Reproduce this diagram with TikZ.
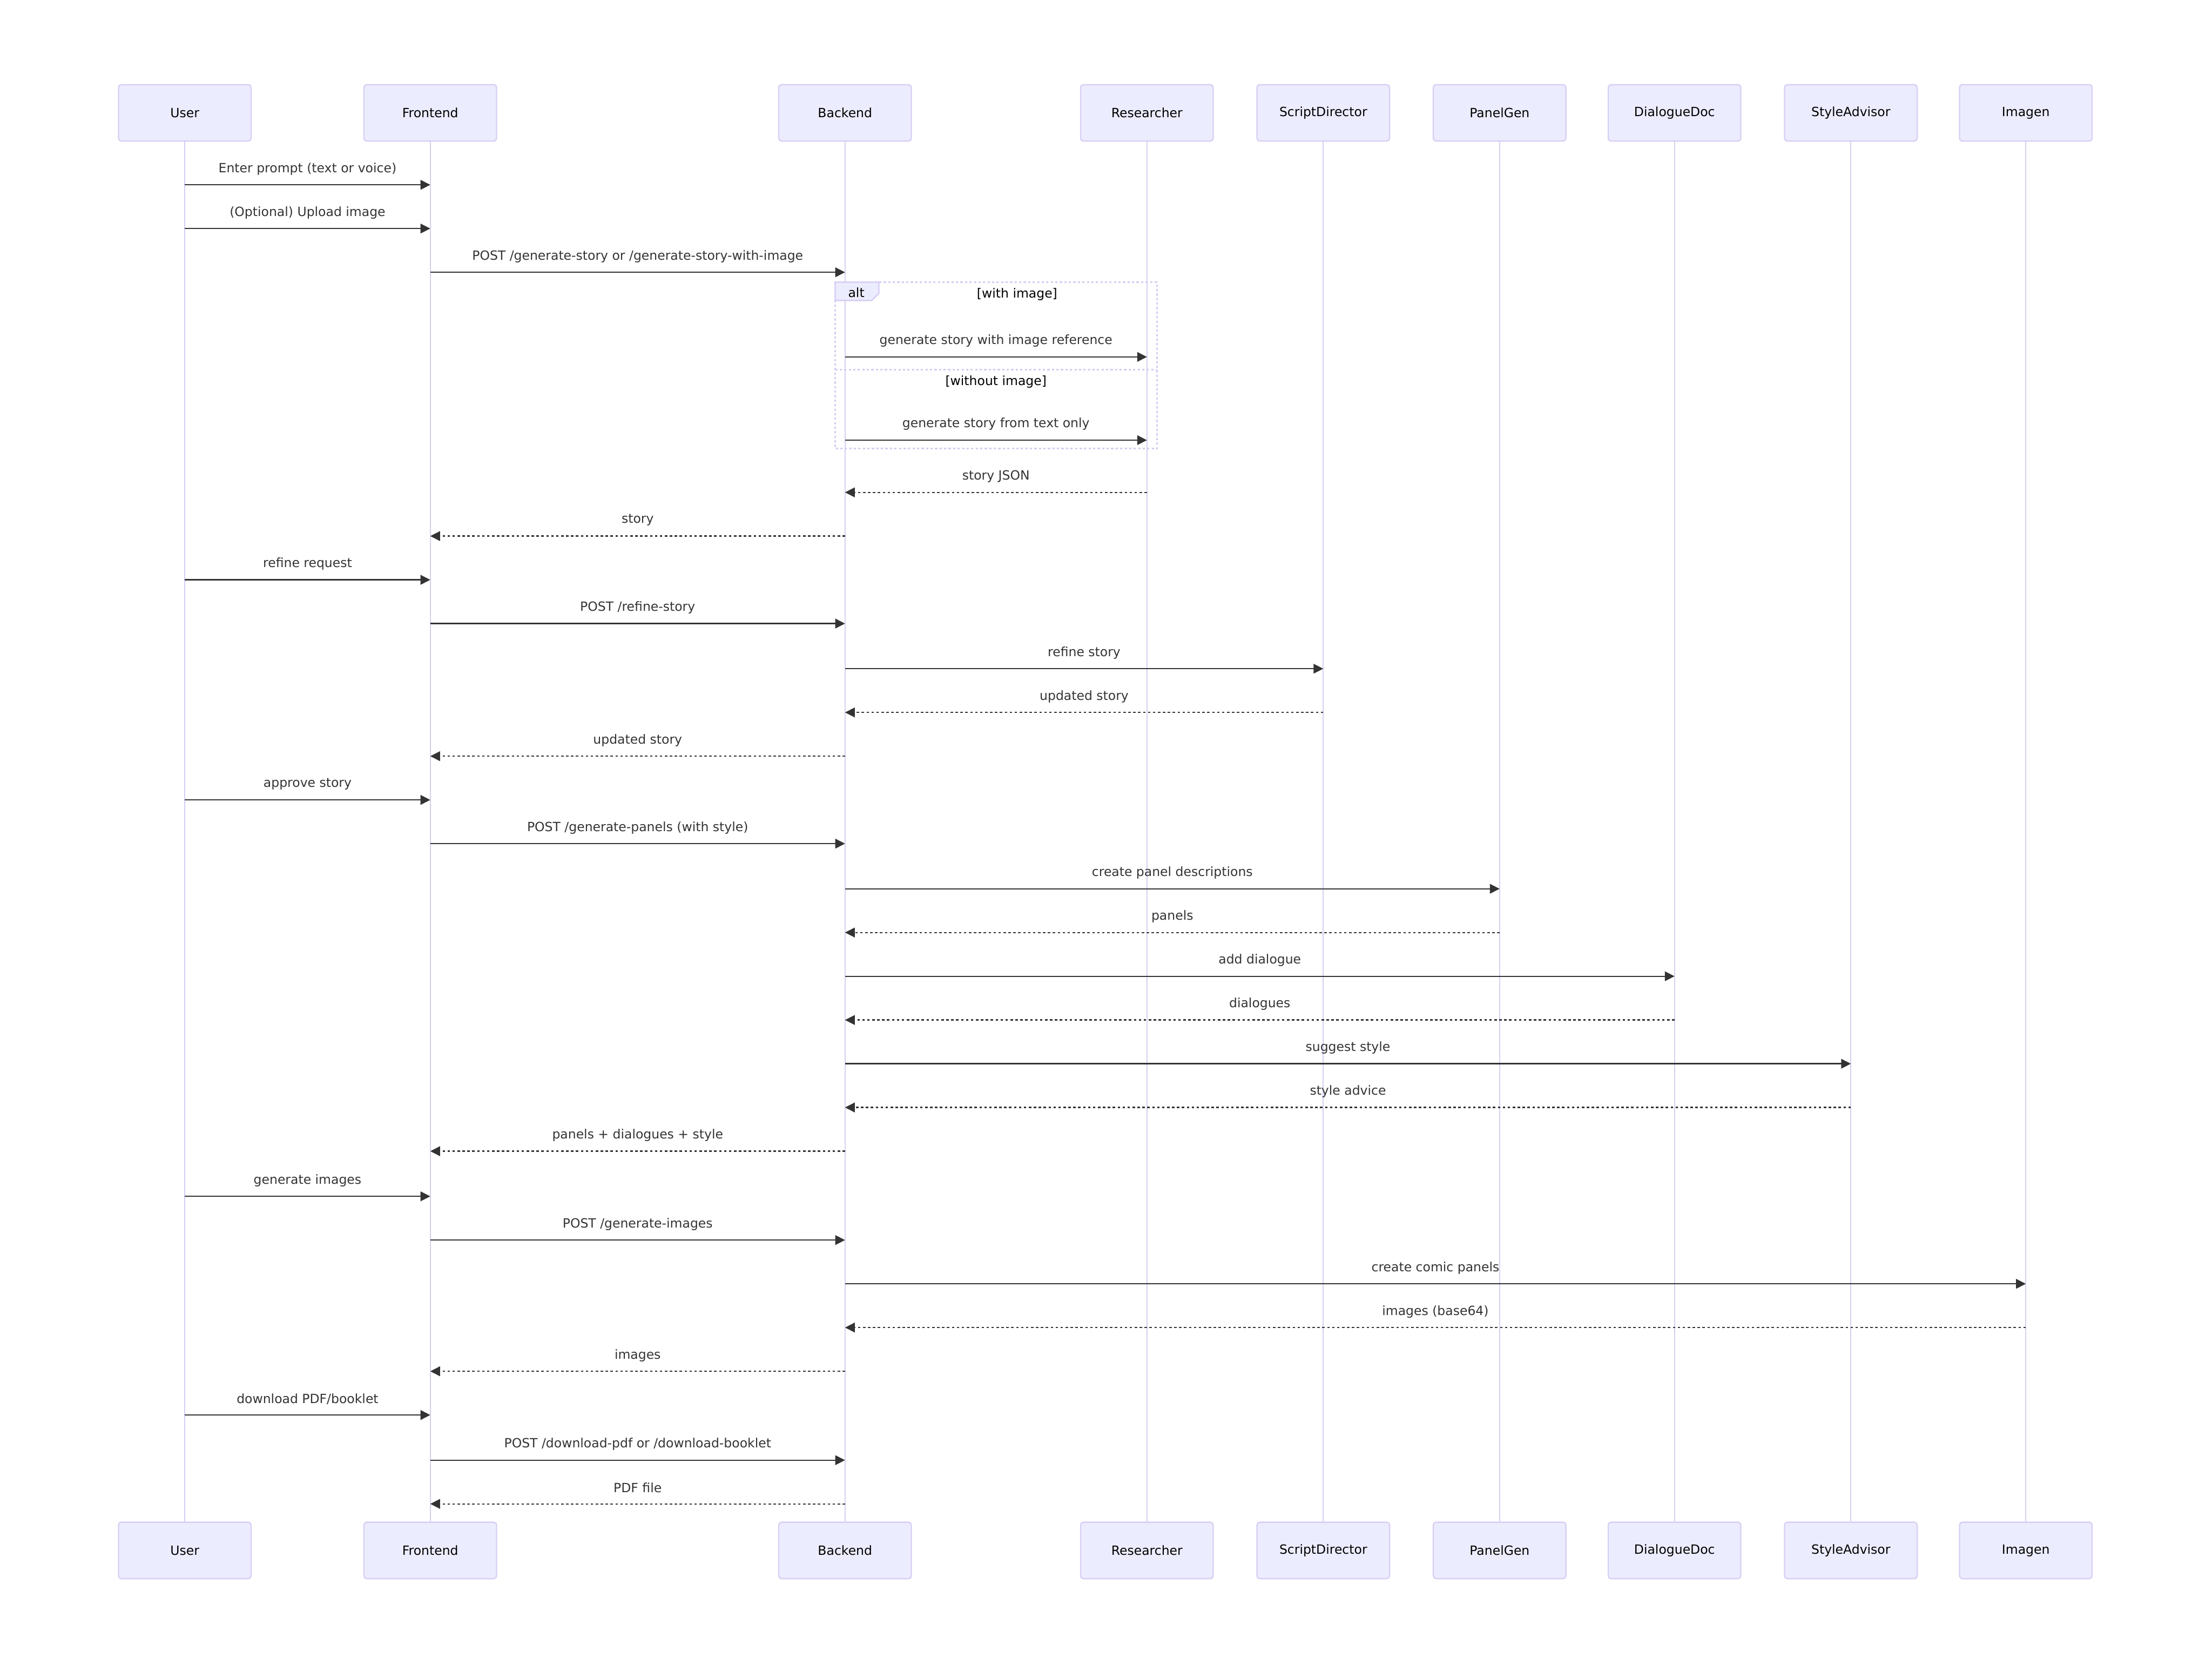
\documentclass[tikz,border=0pt]{standalone}
\usepackage{fontspec}
\setmainfont{DejaVu Sans}
\usetikzlibrary{arrows.meta}
\definecolor{actfill}{HTML}{ECECFF}
\definecolor{actline}{HTML}{D8CEF3}
\definecolor{altline}{HTML}{D5CCF3}
\definecolor{arrowc}{HTML}{333333}
\tikzset{
  actor/.style={draw=actline, fill=actfill, line width=0.9pt, minimum width=94pt, minimum height=40pt, rounded corners=2pt, inner sep=0pt, font=\fontsize{9}{11}\selectfont, text=black},
  lifeline/.style={draw=actline, line width=0.9pt},
  msg/.style={draw=arrowc, line width=0.9pt, -{Triangle[length=6.9pt,width=6.8pt]}},
  ret/.style={msg, dash pattern=on 1.75pt off 1.75pt},
  lbl/.style={font=\fontsize{9}{11}\selectfont, text=arrowc, inner sep=0pt},
  altbox/.style={draw=altline, line width=1.2pt, dash pattern=on 1.6pt off 1.6pt},
  alttext/.style={font=\fontsize{9}{11}\selectfont, text=black, inner sep=0pt}
}
\newcommand\seqmsg[5]{%
  \draw[#4] (t#1.center |- 0,#3) -- (t#2.center |- 0,#3)
    node[lbl, midway, yshift=11.3pt] {#5};
}
\begin{document}
\begin{tikzpicture}[x=1pt,y=-1pt]
\useasboundingbox (0,0) rectangle (1568,1180);
% participants
\foreach \n/\x/\t in {U/131/User, F/305/Frontend, B/599/Backend, R/813/Researcher, S/938/ScriptDirector, P/1063/PanelGen, D/1187/DialogueDoc, A/1312/StyleAdvisor, I/1436/Imagen}{
  \draw[lifeline] (\x,100) -- (\x,1079);
  \node[actor] (t\n) at (\x,80) {\raisebox{-0.8pt}{\t}};
  \node[actor] (b\n) at (\x,1099) {\raisebox{-0.8pt}{\t}};
}
% alt frame
\draw[altbox] (592,200) rectangle (820,318);
\draw[altbox] (592,262) -- (820,262);
\draw[draw=altline, fill=actfill, line width=0.9pt, line join=miter] (592,200) -- (623,200) -- (623,208) -- (618,213) -- (592,213) -- cycle;
\node[alttext] (altlbl) at (607,207.5) {alt};
\node[alttext] (cond1) at (721,208.5) {[with image]};
\node[alttext] (cond2) at (706,270.5) {[without image]};
% messages
\seqmsg{U}{F}{131}{msg}{Enter prompt (text or voice)}
\seqmsg{U}{F}{162}{msg}{(Optional) Upload image}
\seqmsg{F}{B}{193}{msg}{POST /generate-story or /generate-story-with-image}
\seqmsg{B}{R}{253}{msg}{generate story with image reference}
\seqmsg{B}{R}{312}{msg}{generate story from text only}
\seqmsg{R}{B}{349}{ret}{story JSON}
\seqmsg{B}{F}{380}{ret}{story}
\seqmsg{U}{F}{411}{msg}{refine request}
\seqmsg{F}{B}{442}{msg}{POST /refine-story}
\seqmsg{B}{S}{474}{msg}{refine story}
\seqmsg{S}{B}{505}{ret}{updated story}
\seqmsg{B}{F}{536}{ret}{updated story}
\seqmsg{U}{F}{567}{msg}{approve story}
\seqmsg{F}{B}{598}{msg}{POST /generate-panels (with style)}
\seqmsg{B}{P}{630}{msg}{create panel descriptions}
\seqmsg{P}{B}{661}{ret}{panels}
\seqmsg{B}{D}{692}{msg}{add dialogue}
\seqmsg{D}{B}{723}{ret}{dialogues}
\seqmsg{B}{A}{754}{msg}{suggest style}
\seqmsg{A}{B}{785}{ret}{style advice}
\seqmsg{B}{F}{816}{ret}{panels + dialogues + style}
\seqmsg{U}{F}{848}{msg}{generate images}
\seqmsg{F}{B}{879}{msg}{POST /generate-images}
\seqmsg{B}{I}{910}{msg}{create comic panels}
\seqmsg{I}{B}{941}{ret}{images (base64)}
\seqmsg{B}{F}{972}{ret}{images}
\seqmsg{U}{F}{1003}{msg}{download PDF/booklet}
\seqmsg{F}{B}{1035}{msg}{POST /download-pdf or /download-booklet}
\seqmsg{B}{F}{1066}{ret}{PDF file}
\end{tikzpicture}
\end{document}
